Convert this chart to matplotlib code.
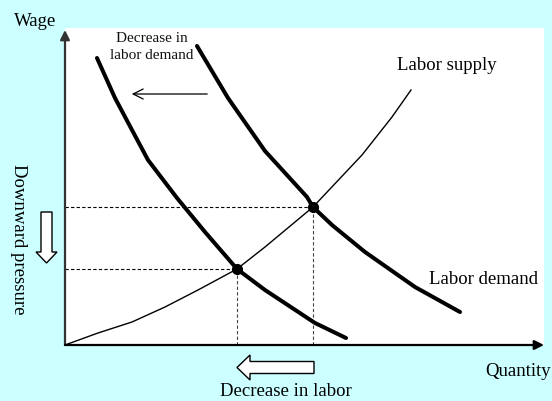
import matplotlib
matplotlib.use("Agg")
import matplotlib.pyplot as plt
from matplotlib.patches import FancyArrow

# ─────────────── DATA (quantity, wage in panel units) ───────────────
supply_q = [0, 33, 67, 100, 133, 172, 200, 248, 297, 327, 346]
supply_w = [0, 12, 23, 38, 55, 76, 98, 138, 190, 228, 255]

demand_q = [132, 163, 200, 242, 248, 267, 300, 350, 395]
demand_w = [299, 247, 194, 148, 138, 120, 93, 58, 33]

new_demand_q = [32, 50, 67, 83, 112, 140, 172, 200, 250, 281]
new_demand_w = [287, 247, 215, 185, 147, 113, 76, 55, 22, 7]

eq_q = [248, 172]
eq_w = [138, 76]

Q_MAX, W_MAX = 479, 317

BG = "#CCFFFF"
FONT = "Liberation Serif"

W_PX, H_PX = 552, 401
fig = plt.figure(figsize=(W_PX / 100, H_PX / 100), dpi=100, facecolor=BG)

# ── main panel ──
ax = fig.add_axes([65 / W_PX, (H_PX - 345) / H_PX, Q_MAX / W_PX, W_MAX / H_PX])
ax.set_facecolor("white")
ax.set_xlim(0, Q_MAX)
ax.set_ylim(0, W_MAX)
ax.set_xticks([])
ax.set_yticks([])
for s in ax.spines.values():
    s.set_visible(False)

# dashed guides
for q, w in zip(eq_q, eq_w):
    ax.plot([0, q], [w, w], color="black", lw=0.8, dashes=(3, 2))
    ax.plot([q, q], [0, w], color="#444444", lw=0.8, dashes=(3, 2))

ax.plot(supply_q, supply_w, color="black", lw=1.0, solid_joinstyle="round")
ax.plot(demand_q, demand_w, color="black", lw=2.9,
        solid_capstyle="round", solid_joinstyle="round")
ax.plot(new_demand_q, new_demand_w, color="black", lw=2.9,
        solid_capstyle="round", solid_joinstyle="round")
ax.plot(eq_q, eq_w, "o", color="black", ms=7, zorder=5)

# shift arrow
ax.annotate("", xy=(64, 251), xytext=(145, 251),
            arrowprops=dict(arrowstyle="->", color="black", lw=0.9,
                            mutation_scale=18))

# axes with arrowheads
ax.annotate("", xy=(0, 315), xytext=(0, 0), annotation_clip=False,
            arrowprops=dict(arrowstyle="-|>", color="#333333", lw=1.6,
                            mutation_scale=14, shrinkA=0, shrinkB=0))
ax.annotate("", xy=(Q_MAX, 0), xytext=(0, 0), annotation_clip=False,
            arrowprops=dict(arrowstyle="-|>", color="black", lw=1.6,
                            mutation_scale=14, shrinkA=0, shrinkB=0))

ax.text(87, 298, "Decrease in\nlabor demand", fontsize=11, family=FONT,
        ha="center", va="center", linespacing=1.35, color="#111111")
ax.text(382, 280, "Labor supply", fontsize=13.5, family=FONT,
        ha="center", va="center")
ax.text(419, 65, "Labor demand", fontsize=13.5, family=FONT,
        ha="center", va="center")

# ── overlay in pixel space for outer labels and block arrows ──
ov = fig.add_axes([0, 0, 1, 1], facecolor="none")
ov.set_xlim(0, W_PX)
ov.set_ylim(H_PX, 0)
ov.axis("off")

ov.text(35, 22, "Wage", fontsize=13.5, family=FONT, ha="center", va="center")
ov.text(518, 372, "Quantity", fontsize=13.5, family=FONT, ha="center", va="center")
ov.text(286, 392, "Decrease in labor", fontsize=13.5, family=FONT,
        ha="center", va="center")
ov.text(18, 239, "Downward pressure", fontsize=13.5, family=FONT,
        ha="center", va="center", rotation=-90)

ov.add_patch(FancyArrow(314, 367.5, -77, 0, width=12, head_width=25,
                        head_length=13, length_includes_head=True,
                        fc="white", ec="black", lw=1.0))
ov.add_patch(FancyArrow(46.5, 212, 0, 51, width=11, head_width=21,
                        head_length=11, length_includes_head=True,
                        fc="white", ec="black", lw=1.0))

fig.savefig("out.png", dpi=100, facecolor=BG)
